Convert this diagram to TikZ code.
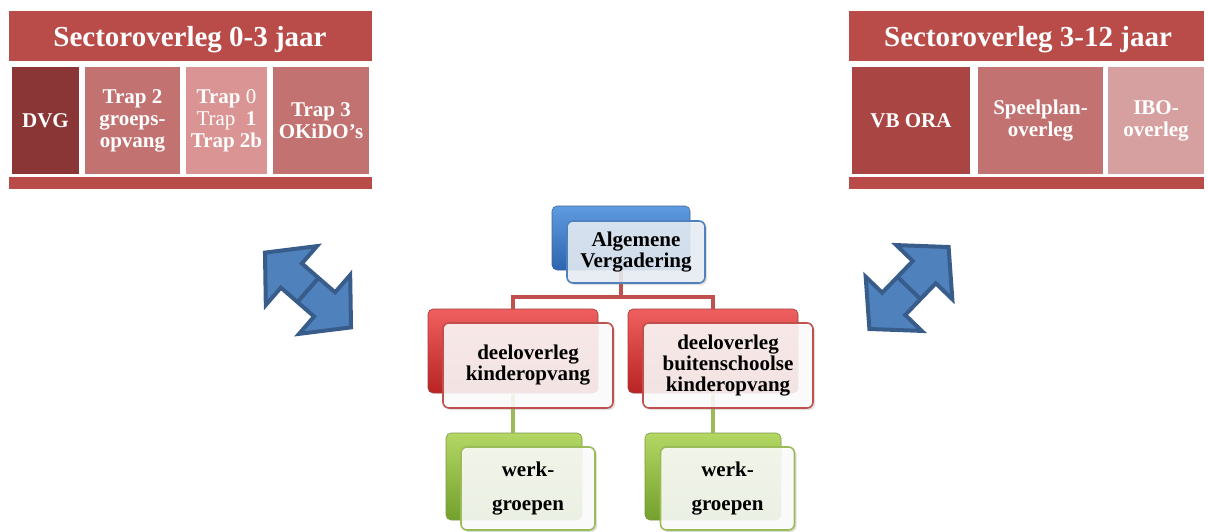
\documentclass[tikz,border=0pt]{standalone}
\usepackage{fontspec}
\setmainfont{Liberation Serif}
\usetikzlibrary{shadows}

\begin{document}
\begin{tikzpicture}[x=1pt,y=-1pt,
    cell/.style={minimum width=#1, minimum height=107, inner sep=0pt, text=white,
        align=center, font=\fontsize{21}{22}\selectfont\bfseries},
    hdr/.style={anchor=base, text=white, font=\fontsize{29}{30}\selectfont\bfseries},
    backbox/.style={rounded corners=5pt, inner sep=0pt, draw=#1!80!black, line width=0.6pt},
    frontbox/.style={rounded corners=6pt, inner sep=0pt, draw=#1, line width=1.6pt,
        fill=white, fill opacity=0.86, text opacity=1, align=center,
        drop shadow={opacity=0.25, shadow xshift=2pt, shadow yshift=-2pt},
        font=\fontsize{21}{21}\selectfont\bfseries},
    orgline/.style={line width=4pt, draw=#1},
    dblarrow/.style={fill=arrfill, draw=arrline, line width=4pt, line join=miter}
]
        % Define colors
        \definecolor{bar}{RGB}{185, 75, 73}
        \definecolor{c0}{RGB}{139, 54, 54}
        \definecolor{c1}{RGB}{194, 114, 112}
        \definecolor{c2}{RGB}{217, 148, 147}
        \definecolor{c3}{RGB}{169, 70, 68}
        \definecolor{c4}{RGB}{215, 160, 160}
        \definecolor{avblue}{RGB}{79, 129, 189}
        \definecolor{avtop}{RGB}{95, 155, 225}
        \definecolor{avbot}{RGB}{45, 100, 175}
        \definecolor{dored}{RGB}{192, 80, 77}
        \definecolor{dotop}{RGB}{240, 95, 95}
        \definecolor{dobot}{RGB}{185, 35, 35}
        \definecolor{wggreen}{RGB}{155, 187, 89}
        \definecolor{wgtop}{RGB}{180, 215, 100}
        \definecolor{wgbot}{RGB}{115, 160, 45}
        \definecolor{arrfill}{RGB}{79, 129, 189}
        \definecolor{arrline}{RGB}{56, 93, 138}

        \useasboundingbox (0,0) rectangle (1208,532);

        % --- SECTOR 0-3 (left) ---
        \fill[bar] (9,11) rectangle (372,61);
        \fill[bar] (9,177) rectangle (372,189);
        \node[hdr] (titleA) at (190,47) {Sectoroverleg 0-3 jaar};
        \node[cell=67, fill=c0] (dvg) at (45.5,120.5) {DVG};
        \node[cell=95, fill=c1] (trap2) at (132.5,120.5) {Trap 2\\groeps-\\opvang};
        \node[cell=81, fill=c2] (trap0) at (226.5,120.5) {Trap {\mdseries 0}\\{\mdseries Trap}\ \ 1\\Trap 2b};
        \node[cell=96, fill=c1] (trap3) at (321,120.5) {Trap 3\\OKiDO’s};

        % --- SECTOR 3-12 (right) ---
        \fill[bar] (849,11) rectangle (1204,61);
        \fill[bar] (849,177) rectangle (1204,189);
        \node[hdr] (titleB) at (1028,47) {Sectoroverleg 3-12 jaar};
        \node[cell=118, fill=c3] (vbora) at (911,120.5) {VB ORA};
        \node[cell=125, fill=c1] (speel) at (1040.5,120.5) {Speelplan-\\overleg};
        \node[cell=96, fill=c4] (ibo) at (1156,120.5) {IBO-\\overleg};

        % --- Double arrows ---
        \foreach \cx/\cy/\ang in {308/290/-41, 909/288/46} {
            \begin{scope}[shift={(\cx,\cy)}, rotate=\ang]
                \filldraw[dblarrow] (-57,0) -- (-22,39) -- (-22,16) -- (22,16) -- (22,39)
                    -- (57,0) -- (22,-39) -- (22,-16) -- (-22,-16) -- (-22,-39) -- cycle;
                \draw[line width=4pt, arrline] (0,16) -- (0,-16);
            \end{scope}
        }

        % --- Org chart: back boxes ---
        \node[backbox=avblue, top color=avtop, bottom color=avbot,
            minimum width=138, minimum height=64] (avback) at (621,238) {};
        \node[backbox=dored, top color=dotop, bottom color=dobot,
            minimum width=170, minimum height=84] (dkback) at (513,351) {};
        \node[backbox=dored, top color=dotop, bottom color=dobot,
            minimum width=170, minimum height=84] (bkback) at (713,351) {};
        \node[backbox=wggreen, top color=wgtop, bottom color=wgbot,
            minimum width=136, minimum height=87] (wgaback) at (514,476.5) {};
        \node[backbox=wggreen, top color=wgtop, bottom color=wgbot,
            minimum width=136, minimum height=87] (wgbback) at (713,476.5) {};

        % Connectors
        \coordinate (split) at (621,297);
        \draw[orgline=dored] (avback.south) -- (split);
        \draw[orgline=dored] (dkback.north) |- (split) -| (bkback.north);
        \draw[orgline=wggreen] (dkback.south) -- (dkback.south |- wgaback.north);
        \draw[orgline=wggreen] (bkback.south) -- (bkback.south |- wgbback.north);

        % --- Org chart: front boxes ---
        \node[frontbox=avblue, fill=avblue!12, minimum width=138, minimum height=62]
            (av) at (636,252) {Algemene\\Vergadering};
        \node[frontbox=dored, minimum width=170, minimum height=85]
            (dk) at (528,365.5) {deeloverleg\\kinderopvang};
        \node[frontbox=dored, minimum width=170, minimum height=85]
            (bk) at (728,365.5) {deeloverleg\\buitenschoolse\\kinderopvang};
        \node[frontbox=wggreen, minimum width=134, minimum height=83,
            font=\fontsize{21}{34}\selectfont\bfseries]
            (wga) at (528,488.5) {werk-\\groepen};
        \node[frontbox=wggreen, minimum width=134, minimum height=83,
            font=\fontsize{21}{34}\selectfont\bfseries]
            (wgb) at (727.5,488.5) {werk-\\groepen};
\end{tikzpicture}
\end{document}
